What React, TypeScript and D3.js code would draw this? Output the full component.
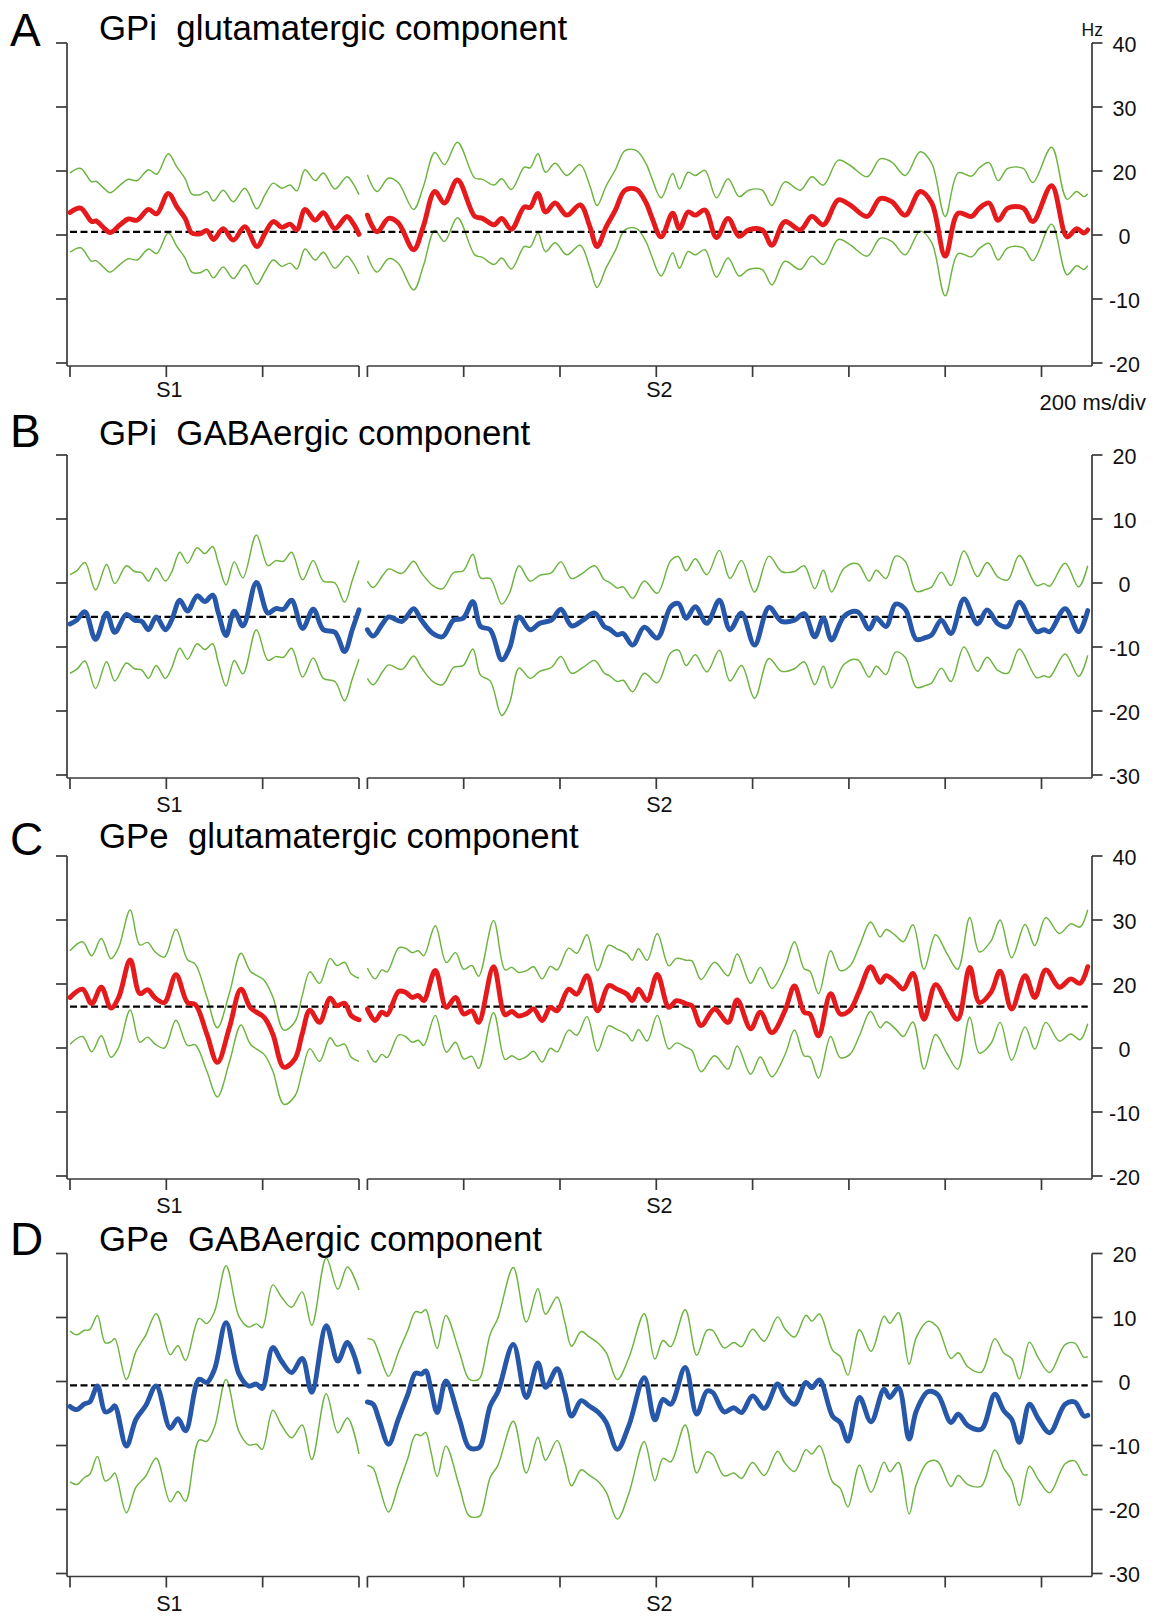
import React from "react";
import * as d3 from "d3";

// ---------------- DATA ----------------
// time in ms relative to stimulus (S1 / S2); values in Hz
// Panel A: GPi glutamatergic component
const aS1Time = [-200,-178,-155,-146,-131,-117,-96,-79,-61,-37,-20,4,22,39,53,70,84,98,118,139,163,188,205,222,240,257,271,288,309,326,350,375,388,400];
const aS1Mean = [3.5,4.2,2.1,2.2,1.2,0.4,1.6,2.5,2.3,4.0,3.3,6.5,4.4,2.6,0.3,0.2,0.7,-0.7,1.0,-0.8,1.3,-1.8,0.3,2.1,1.2,1.7,0.8,4.0,2.3,3.5,1.0,2.9,1.8,0.1];
const aS1Sem = [6.2,6.2,6.2,6.2,6.2,6.2,6.2,6.2,6.2,6.2,6.2,6.2,6.2,6.2,6.1,6.1,6.1,6.0,6.0,6.0,6.0,5.9,6.0,6.0,6.1,6.1,6.1,6.2,6.2,6.2,6.2,6.2,6.2,6.2];
const aS2Time = [-600,-580,-556,-536,-504,-484,-460,-440,-413,-377,-361,-337,-321,-301,-274,-262,-246,-230,-210,-186,-158,-138,-123,-104,-85,-65,-41,-21,-10,10,34,48,66,81,101,125,149,172,192,220,240,267,299,323,347,378,402,438,465,489,517,548,572,600,627,655,671,691,710,730,762,782,821,853,873,888,896];
const aS2Mean = [3.1,0.5,2.6,1.9,-2.3,1.3,6.8,5.0,8.6,2.9,2.6,1.6,2.6,0.9,4.4,4.3,6.5,3.6,5.0,3.1,4.7,1.3,-1.8,1.3,3.9,7.0,7.1,5.0,2.9,-0.3,3.4,1.0,3.6,3.1,3.9,-0.4,2.6,-0.2,0.8,0.8,-1.6,2.1,0.8,2.9,1.6,5.5,4.7,2.9,5.7,5.2,3.1,6.8,5.0,-3.3,3.4,2.9,4.2,5.0,2.3,4.2,4.2,2.1,7.7,-0.3,1.0,0.3,0.8];
const aS2Sem = [6.3,6.3,6.3,6.3,6.3,6.2,6.1,6.0,5.9,6.0,6.1,6.2,6.2,6.2,6.2,6.2,6.2,6.2,6.2,6.2,6.3,6.4,6.4,6.4,6.3,6.2,6.1,6.1,6.1,6.1,6.2,6.2,6.2,6.2,6.2,6.2,6.2,6.2,6.2,6.2,6.2,6.2,6.2,6.2,6.2,6.2,6.2,6.2,6.2,6.2,6.2,6.2,6.2,6.2,6.3,6.3,6.3,6.3,6.2,6.2,6.2,6.1,6.0,5.9,5.8,5.7,5.6];

// Panel B: GPi GABAergic component
const bS1Time = [-200,-186,-169,-147,-124,-107,-83,-66,-51,-37,-21,-2,11,28,44,64,80,96,108,124,141,159,187,211,227,243,260,283,305,326,350,370,386,400];
const bS1Mean = [-6.4,-5.8,-4.5,-8.8,-4.7,-7.7,-4.9,-5.8,-6.0,-7.3,-5.3,-7.3,-5.8,-2.7,-4.4,-2.0,-2.9,-1.9,-4.7,-8.2,-4.4,-6.7,0.1,-4.7,-4.0,-4.1,-2.7,-7.1,-4.1,-7.3,-7.7,-10.7,-7.3,-4.2];
const bS1Sem = [7.7,7.7,7.7,7.7,7.6,7.6,7.6,7.6,7.6,7.6,7.6,7.6,7.5,7.5,7.5,7.5,7.5,7.6,7.8,7.9,7.7,7.5,7.4,7.4,7.5,7.5,7.5,7.6,7.6,7.6,7.7,7.7,7.7,7.7];
const bS2Time = [-600,-588,-568,-556,-528,-504,-488,-464,-444,-421,-401,-381,-365,-345,-321,-305,-285,-262,-242,-218,-198,-176,-152,-128,-108,-97,-81,-69,-49,-25,2,30,46,62,81,105,131,153,177,204,234,260,287,307,329,347,364,390,418,442,457,477,497,517,540,560,572,592,612,639,667,687,710,730,754,790,805,817,849,877,896];
const bS2Mean = [-7.3,-8.3,-6.3,-5.3,-6.0,-4.0,-5.8,-7.9,-8.4,-5.8,-5.5,-2.9,-6.8,-7.3,-12.0,-10.2,-5.3,-7.3,-6.3,-5.8,-4.1,-6.7,-5.8,-4.7,-6.8,-7.2,-8.1,-7.9,-9.7,-6.9,-8.6,-3.7,-3.2,-5.5,-3.7,-6.3,-2.7,-7.3,-4.7,-9.7,-3.8,-6.0,-5.8,-4.8,-8.4,-5.5,-8.9,-5.2,-4.5,-7.2,-5.5,-6.8,-3.3,-4.1,-8.8,-8.5,-8.1,-5.8,-7.9,-2.5,-6.4,-4.2,-6.4,-6.8,-3.0,-7.6,-7.3,-7.6,-4.0,-7.6,-4.3];
const bS2Sem = [7.6,7.6,7.5,7.5,7.5,7.4,7.4,7.5,7.5,7.4,7.4,7.4,7.6,8.0,8.7,8.6,8.0,7.6,7.5,7.4,7.4,7.4,7.4,7.4,7.3,7.3,7.3,7.3,7.3,7.2,7.0,7.2,7.3,7.4,7.5,7.6,7.8,8.0,8.2,8.3,8.0,7.8,7.6,7.5,7.5,7.5,7.5,7.5,7.5,7.5,7.5,7.5,7.5,7.5,7.5,7.5,7.5,7.5,7.5,7.5,7.4,7.4,7.3,7.3,7.3,7.2,7.2,7.1,7.1,7.0,7.0];

// Panel C: GPe glutamatergic component
const cS1Time = [-200,-174,-155,-135,-115,-99,-75,-55,-39,-23,-4,20,44,60,84,106,131,155,175,203,221,244,267,282,298,318,340,354,370,384,400];
const cS1Mean = [7.9,9.2,6.9,9.5,6.25,7.9,13.75,8.5,9.1,7.8,7.1,11.45,7.1,6.8,2.2,-2.25,3.2,9.2,6.25,4.8,2.2,-3.0,-1.7,2.2,5.9,4.0,7.8,6.6,7.0,5.05,4.4];
const cS1Sem = [7.3,7.4,7.5,7.6,7.7,7.8,7.8,7.6,7.4,7.2,7.1,7.1,6.7,6.3,5.8,5.4,5.4,5.6,5.7,5.8,5.8,5.8,5.8,5.9,6.0,6.1,6.2,6.3,6.4,6.5,6.5];
const cS2Time = [-600,-584,-570,-559,-535,-521,-507,-494,-483,-459,-436,-417,-400,-383,-369,-338,-314,-300,-286,-269,-255,-237,-220,-206,-182,-165,-144,-122,-99,-82,-61,-50,-37,-19,2,26,42,62,74,93,121,149,168,196,216,240,267,287,307,319,337,362,382,402,422,445,465,477,497,513,533,556,580,604,626,651,671,695,714,738,766,786,809,837,861,880,896];
const cS2Mean = [6.1,4.3,5.6,5.2,8.85,8.7,7.9,8.2,7.4,12.1,6.35,7.9,5.3,5.8,4.0,12.7,5.2,5.7,5.0,5.4,6.1,4.3,6.35,5.8,9.2,8.4,11.3,5.8,9.75,9.2,8.4,7.4,9.2,7.4,11.5,6.35,7.4,6.9,6.6,3.5,6.1,4.0,7.5,3.0,5.6,2.4,5.8,9.7,5.6,5.3,1.9,8.5,5.3,5.9,8.95,12.7,10.25,11.3,10.25,9.2,11.65,4.5,9.9,6.9,4.5,12.6,7.1,8.7,12.0,6.1,11.3,7.9,12.2,9.5,10.8,10.1,12.7];
const cS2Sem = [6.4,6.5,6.6,6.7,6.8,6.9,7.0,7.0,7.0,7.0,7.0,7.0,7.0,7.1,7.2,7.2,7.0,6.9,6.8,6.7,6.6,6.5,6.4,6.4,6.4,6.4,6.4,6.3,6.3,6.3,6.3,6.3,6.3,6.3,6.4,6.5,6.6,6.8,7.0,7.2,7.3,7.3,7.2,7.1,7.0,6.9,6.9,6.9,6.8,6.7,6.6,6.7,6.8,6.9,7.0,7.0,7.1,7.2,7.3,7.4,7.6,7.8,7.8,7.8,7.8,7.8,7.9,8.0,8.0,8.0,8.0,8.1,8.2,8.4,8.6,8.8,8.9];

// Panel D: GPe GABAergic component
const dS1Time = [-200,-186,-170,-159,-143,-127,-115,-107,-83,-63,-43,-21,8,24,40,68,84,100,124,151,171,187,199,221,239,260,282,302,332,356,376,400];
const dS1Mean = [-3.9,-4.4,-3.5,-3.2,-0.7,-4.75,-4.4,-3.8,-10.1,-5.9,-3.8,-0.7,-7.3,-5.8,-7.7,0.35,-0.15,1.9,9.2,1.15,-0.7,-0.4,-1.1,5.3,3.2,1.4,3.6,-1.7,8.7,3.2,6.1,1.5];
const dS1Sem = [11.8,11.7,11.5,11.3,11.0,10.8,10.6,10.5,10.4,10.6,11.0,11.3,11.5,11.4,11.0,9.5,9.2,9.0,8.9,9.0,9.2,9.4,9.5,9.8,10.0,10.2,10.4,10.5,10.6,11.2,11.8,12.8];
const dS2Time = [-600,-588,-576,-556,-536,-516,-500,-488,-479,-468,-455,-437,-409,-389,-373,-365,-345,-329,-297,-270,-246,-230,-206,-190,-176,-156,-140,-120,-104,-81,-57,-25,-3,14,30,60,84,105,117,141,161,177,200,224,252,267,287,311,323,339,366,382,398,422,446,473,485,503,525,540,564,584,612,627,647,675,703,722,738,754,775,794,817,849,869,888,896];
const dS2Mean = [-3.2,-3.55,-5.9,-9.8,-5.9,-2.0,1.3,1.15,1.65,-1.2,-4.85,0.1,-5.9,-10.3,-10.5,-10.1,-3.8,-1.6,5.8,-2.5,2.9,-0.9,2.0,-1.7,-5.4,-3.0,-3.8,-4.85,-6.4,-10.6,-6.9,0.6,-6.0,-2.8,-3.55,2.2,-5.1,-1.5,-1.7,-4.75,-4.1,-4.85,-2.25,-4.2,-0.4,-2.25,-3.55,-0.15,-0.95,0.25,-5.4,-6.4,-9.3,-2.5,-6.3,-1.2,-2.5,-0.95,-9.0,-4.6,-1.6,-2.0,-6.4,-5.1,-6.9,-7.45,-2.0,-4.6,-5.9,-9.5,-3.55,-5.9,-8.0,-3.55,-3.2,-5.4,-5.3];
const dS2Sem = [9.9,10.0,10.3,10.6,10.4,10.0,9.6,9.6,9.6,9.8,10.0,10.2,10.5,10.7,10.7,10.8,11.2,11.5,12.0,11.8,11.6,11.4,11.2,11.0,10.9,10.8,10.8,10.8,10.9,10.9,10.6,10.0,9.5,9.2,9.0,9.0,9.2,9.5,9.7,10.0,10.2,10.3,10.4,10.5,10.5,10.5,10.5,10.5,10.4,10.3,10.3,10.3,10.3,10.6,11.0,11.4,11.6,11.7,11.7,11.5,11.0,10.5,10.0,9.6,9.2,8.9,8.7,9.0,9.5,9.9,9.7,9.5,9.4,9.3,9.2,9.2,9.2];

// baseline (dashed) levels per panel A, B, C, D
const baselineLevels = [0.5, -5.3, 6.45, -0.6];

// axis ticks
const xTicksS1 = [-200, 0, 200, 400];
const xTicksS2 = [-600, -400, -200, 0, 200, 400, 600, 800];
const yTicksGlu = [30, 20, 10, 0, -10, -20];
const yTickLabelsGlu = ["40", "30", "20", "0", "-10", "-20"];
const yTicksGaba = [20, 10, 0, -10, -20, -30];
const yTickLabelsGaba = ["20", "10", "0", "-10", "-20", "-30"];

const panelLetters = ["A", "B", "C", "D"];
const panelTitles = [
  "GPi  glutamatergic component",
  "GPi  GABAergic component",
  "GPe  glutamatergic component",
  "GPe  GABAergic component",
];

// ---------------- STYLE / LAYOUT ----------------
const W = 1156;
const H = 1619;
const FONT = "'Liberation Sans', Arial, Helvetica, sans-serif";
const RED = "#e41a1c";
const BLUE = "#2757a8";
const GREEN = "#6cb33f";
const AXIS = "#3a3a3a";
const LEFT_X = 67;
const RIGHT_X = 1092;
const SEG1_END = 359;
const SEG2_START = 367.4;

const x1 = d3.scaleLinear().domain([-200, 400]).range([70, 359]);
const x2 = d3.scaleLinear().domain([-600, 800]).range([367.4, 1041.5]);

type Seg = { time: number[]; mean: number[]; sem: number[] };
type PanelCfg = {
  idx: number;
  top: number;
  letterY: number;
  titleY: number;
  labelDy: number;
  domain: [number, number];
  ticks: number[];
  tickLabels: string[];
  color: string;
  s1: Seg;
  s2: Seg;
};

const panels: PanelCfg[] = [
  { idx: 0, top: 43, letterY: 46, titleY: 40, labelDy: 31, domain: [30, -20], ticks: yTicksGlu, tickLabels: yTickLabelsGlu, color: RED,
    s1: { time: aS1Time, mean: aS1Mean, sem: aS1Sem }, s2: { time: aS2Time, mean: aS2Mean, sem: aS2Sem } },
  { idx: 1, top: 455, letterY: 447, titleY: 445, labelDy: 34, domain: [20, -30], ticks: yTicksGaba, tickLabels: yTickLabelsGaba, color: BLUE,
    s1: { time: bS1Time, mean: bS1Mean, sem: bS1Sem }, s2: { time: bS2Time, mean: bS2Mean, sem: bS2Sem } },
  { idx: 2, top: 856, letterY: 855, titleY: 848, labelDy: 34, domain: [30, -20], ticks: yTicksGlu, tickLabels: yTickLabelsGlu, color: RED,
    s1: { time: cS1Time, mean: cS1Mean, sem: cS1Sem }, s2: { time: cS2Time, mean: cS2Mean, sem: cS2Sem } },
  { idx: 3, top: 1253.5, letterY: 1255, titleY: 1251, labelDy: 34, domain: [20, -30], ticks: yTicksGaba, tickLabels: yTickLabelsGaba, color: BLUE,
    s1: { time: dS1Time, mean: dS1Mean, sem: dS1Sem }, s2: { time: dS2Time, mean: dS2Mean, sem: dS2Sem } },
];

type Sc = d3.ScaleLinear<number, number>;

function Band({ seg, xs, y }: { seg: Seg; xs: Sc; y: Sc }) {
  const semAt = (i: number) => seg.sem[i] ?? seg.sem[seg.sem.length - 1];
  const mk = (sign: number) =>
    d3
      .line<number>()
      .x((_, i) => xs(seg.time[i]))
      .y((d, i) => y(d + sign * semAt(i)))
      .curve(d3.curveCatmullRom.alpha(0.5))(seg.mean) || "";
  return (
    <g>
      <path d={mk(1)} fill="none" stroke={GREEN} strokeWidth={1.45} />
      <path d={mk(-1)} fill="none" stroke={GREEN} strokeWidth={1.45} />
    </g>
  );
}

function MeanLine({ seg, xs, y, color }: { seg: Seg; xs: Sc; y: Sc; color: string }) {
  const d =
    d3
      .line<number>()
      .x((_, i) => xs(seg.time[i]))
      .y((v) => y(v))
      .curve(d3.curveCatmullRom.alpha(0.5))(seg.mean) || "";
  return <path d={d} fill="none" stroke={color} strokeWidth={4.9} strokeLinejoin="round" strokeLinecap="round" />;
}

function Panel({ p }: { p: PanelCfg }) {
  const y = d3.scaleLinear().domain(p.domain).range([p.top, p.top + 320]);
  const axisY = p.top + 323;
  const base = baselineLevels[p.idx];
  const s1End = p.s1.time[p.s1.time.length - 1];
  const s2End = p.s2.time[p.s2.time.length - 1];
  return (
    <g>
      <text x={10} y={p.letterY} fontSize={46} fontFamily={FONT} fill="#000">
        {panelLetters[p.idx]}
      </text>
      <text x={99} y={p.titleY} fontSize={34.8} fontFamily={FONT} fill="#000" xmlSpace="preserve" style={{ whiteSpace: "pre" }}>
        {panelTitles[p.idx]}
      </text>

      {/* left axis */}
      <line x1={LEFT_X} x2={LEFT_X} y1={p.top} y2={axisY} stroke={AXIS} strokeWidth={1.7} />
      {p.ticks.map((t) => (
        <line key={"lt" + t} x1={LEFT_X - 11} x2={LEFT_X} y1={y(t)} y2={y(t)} stroke={AXIS} strokeWidth={1.7} />
      ))}
      {/* right axis */}
      <line x1={RIGHT_X} x2={RIGHT_X} y1={p.top} y2={axisY} stroke={AXIS} strokeWidth={1.7} />
      {p.ticks.map((t, i) => (
        <g key={"rt" + t}>
          <line x1={RIGHT_X} x2={RIGHT_X + 10.5} y1={y(t)} y2={y(t)} stroke={AXIS} strokeWidth={1.7} />
          <text x={1124.5} y={y(t) + 8.5} fontSize={21.5} fontFamily={FONT} textAnchor="middle" fill="#111">
            {p.tickLabels[i]}
          </text>
        </g>
      ))}

      {/* x axes */}
      <line x1={LEFT_X} x2={SEG1_END} y1={axisY} y2={axisY} stroke={AXIS} strokeWidth={1.7} />
      <line x1={SEG2_START} x2={RIGHT_X} y1={axisY} y2={axisY} stroke={AXIS} strokeWidth={1.7} />
      {xTicksS1.map((t) => (
        <line key={"x1" + t} x1={x1(t)} x2={x1(t)} y1={axisY} y2={axisY + 11} stroke={AXIS} strokeWidth={1.7} />
      ))}
      {xTicksS2.map((t) => (
        <line key={"x2" + t} x1={x2(t)} x2={x2(t)} y1={axisY} y2={axisY + 11} stroke={AXIS} strokeWidth={1.7} />
      ))}
      <text x={x1(0) + 3} y={axisY + p.labelDy} fontSize={21.5} fontFamily={FONT} textAnchor="middle" fill="#111">
        S1
      </text>
      <text x={x2(0) + 3} y={axisY + p.labelDy} fontSize={21.5} fontFamily={FONT} textAnchor="middle" fill="#111">
        S2
      </text>

      {/* traces */}
      <Band seg={p.s1} xs={x1} y={y} />
      <Band seg={p.s2} xs={x2} y={y} />
      <line x1={x1(-200)} x2={x1(s1End)} y1={y(base)} y2={y(base)} stroke="#000" strokeWidth={2.3} strokeDasharray="7,3.5" />
      <line x1={x2(-600)} x2={x2(s2End)} y1={y(base)} y2={y(base)} stroke="#000" strokeWidth={2.3} strokeDasharray="7,3.5" />
      <MeanLine seg={p.s1} xs={x1} y={y} color={p.color} />
      <MeanLine seg={p.s2} xs={x2} y={y} color={p.color} />
    </g>
  );
}

export default function App() {
  return (
    <svg
      width={W}
      height={H}
      viewBox={`0 0 ${W} ${H}`}
      style={{ position: "absolute", left: 0, top: 0, background: "#fff", display: "block" }}
    >
      <rect x={0} y={0} width={W} height={H} fill="#fff" />
      {panels.map((p) => (
        <Panel key={p.idx} p={p} />
      ))}
      <text x={1103} y={36} fontSize={17.5} fontFamily={FONT} textAnchor="end" fill="#111">
        Hz
      </text>
      <text x={1146} y={410} fontSize={22} fontFamily={FONT} textAnchor="end" fill="#111">
        200 ms/div
      </text>
    </svg>
  );
}
